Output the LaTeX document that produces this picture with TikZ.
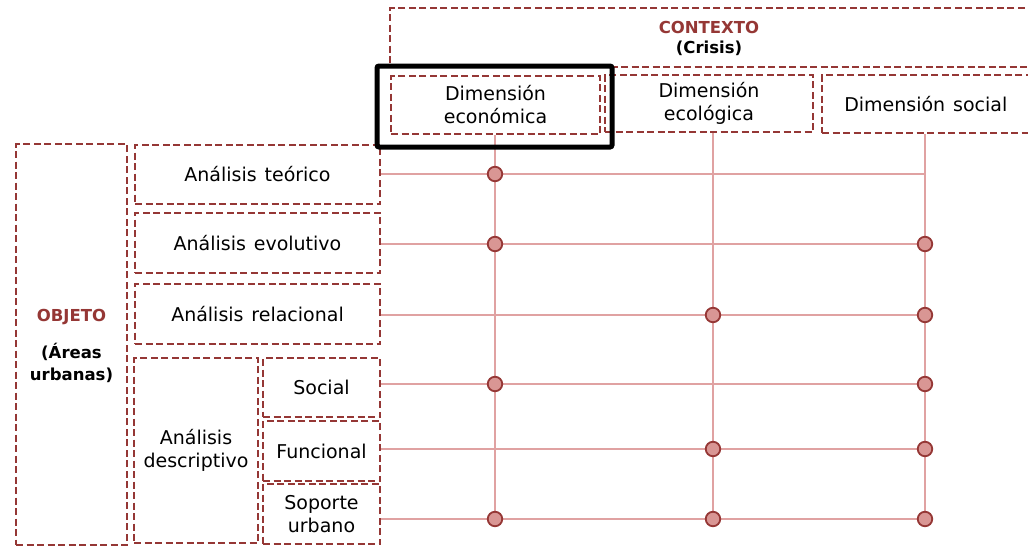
\documentclass[tikz,border=0pt]{standalone}
\usepackage{fontspec}
\setmainfont[WordSpace=1.3]{DejaVu Sans}
\definecolor{dred}{HTML}{953735}
\definecolor{lred}{HTML}{E0A2A2}
\definecolor{dotfill}{HTML}{D99694}
\tikzset{
  box/.style={draw=dred, line width=2.7pt, dash pattern=on 7pt off 3.5pt, fill=white,
    inner sep=0pt, align=center, font=\fontsize{19}{23}\selectfont},
  grid/.style={draw=lred, line width=2.2pt},
  dot/.style={circle, draw=dred, fill=dotfill, line width=1.8pt, minimum size=14.5pt, inner sep=0pt},
  hl/.style={draw=black, line width=5pt, rounded corners=2pt}
}
\begin{document}
\begin{tikzpicture}[x=1pt,y=-1pt]
\useasboundingbox (0,0) rectangle (1028,549);
\clip (0,0) rectangle (1028,549);
% column / row coordinates
\coordinate (cT) at (925,174);
\foreach \c/\x in {E/495,G/713,S/925}{
  \foreach \r/\y in {Ev/244,R/315,So/384,F/449,Su/519}{
    \coordinate (\c\r) at (\x,\y);
  }
}
\coordinate (eT) at (495,174);
% boxes
\node[box, minimum width=639.5pt, minimum height=59pt] (ctx) at (709.75,37.5) {};
\node[inner sep=0pt, align=center, font=\fontsize{16.5}{20}\selectfont\bfseries] (ctxlab) at (709,38) {\textcolor{dred}{CONTEXTO}\\(Crisis)};
\node[box, minimum width=209pt, minimum height=58pt] (econ) at (495.5,105) {Dimensión\\económica};
\node[box, minimum width=208pt, minimum height=57pt] (eco) at (709,103.5) {Dimensión\\ecológica};
\node[box, minimum width=207.5pt, minimum height=58pt] (soc) at (925.75,104) {Dimensión social};
\node[box, minimum width=111pt, minimum height=401pt] (obj) at (71.5,344.5) {};
\node[inner sep=0pt, align=center, font=\fontsize{16.5}{22}\selectfont\bfseries] (objlab) at (71.5,346) {\textcolor{dred}{OBJETO}\\[15pt](Áreas\\urbanas)};
\node[box, minimum width=245pt, minimum height=59pt] (teo) at (257.5,174.5) {Análisis teórico};
\node[box, minimum width=245pt, minimum height=60pt] (evo) at (257.5,243) {Análisis evolutivo};
\node[box, minimum width=245pt, minimum height=60pt] (rel) at (257.5,314) {Análisis relacional};
\node[box, minimum width=124pt, minimum height=185pt] (des) at (196,450.5) {Análisis\\descriptivo};
\node[box, minimum width=117pt, minimum height=59pt] (dsoc) at (321.5,387.5) {Social};
\node[box, minimum width=117pt, minimum height=60pt] (dfun) at (321.5,451) {Funcional};
\node[box, minimum width=117pt, minimum height=60pt] (dsop) at (321.5,514) {Soporte\\urbano};
% grid lines
\draw[grid] (econ.south -| ESu) -- (ESu);
\draw[grid] (eco.south -| GSu) -- (GSu);
\draw[grid] (soc.south -| SSu) -- (SSu);
\draw[grid] (teo.east |- cT) -- (cT);
\draw[grid] (evo.east |- EEv) -- (SEv);
\draw[grid] (rel.east |- ER) -- (SR);
\draw[grid] (dsoc.east |- ESo) -- (SSo);
\draw[grid] (dfun.east |- EF) -- (SF);
\draw[grid] (dsop.east |- ESu) -- (SSu);
% dots
\foreach \p in {eT,EEv,SEv,GR,SR,ESo,SSo,GF,SF,ESu,GSu,SSu}{
  \node[dot] (d\p) at (\p) {};
}
% highlight
\draw[hl] (377,66) rectangle (612,147);
\end{tikzpicture}
\end{document}
